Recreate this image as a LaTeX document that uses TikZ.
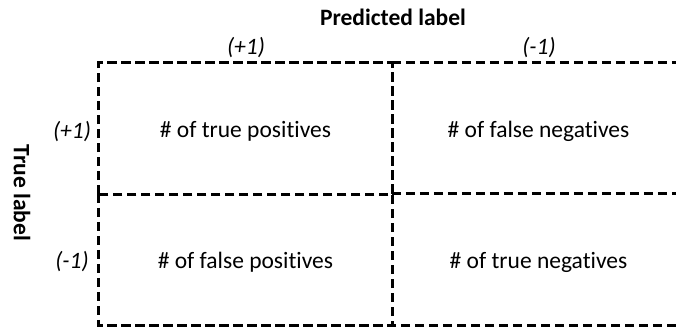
\documentclass[tikz,border=0pt]{standalone}
\usepackage{fontspec}
\setmainfont{Carlito}[Ligatures=NoCommon]
\usepackage{tikz}
\tikzset{cell/.style={minimum width=293pt, minimum height=131pt, inner sep=0pt,
      text height=22pt, text depth=5pt, font=\fontsize{23.5}{26}\selectfont},
  grid/.style={line width=3pt, dash pattern=on 9.5pt off 4.5pt},
  tag/.style={font=\fontsize{23.5}{26}\selectfont\itshape, inner sep=0pt},
  axis/.style={font=\fontsize{23.5}{28}\selectfont\bfseries, inner sep=0pt}}

\begin{document}
\begin{tikzpicture}[x=1pt, y=-1pt]
    \useasboundingbox (0,0) rectangle (676,327);
    \node[cell] (tp) at (245.5,128.5) {\# of true positives};
    \node[cell] (fn) at (538.5,128.5) {\# of false negatives};
    \node[cell] (fp) at (245.5,259.5) {\# of false positives};
    \node[cell] (tn) at (538.5,259.5) {\# of true negatives};
    % dashed borders, each shared edge only once
    \draw[grid] (tp.south west) -- (tp.north west) -- (tp.north east) -- (tp.south east) -- cycle;
    \draw[grid] (fp.north west) -- (fp.south west) -- (fp.south east) -- (fp.north east);
    \draw[grid] (fn.north west) -- (fn.north east) -- (fn.south east);
    \draw[grid] (tn.north west) -- (tn.north east) -- (tn.south east) -- (tn.south west);
    \node[axis] (pred) at (393,17) {Predicted label};
    \node[axis, rotate=-90] (true) at (22,193) {True label};
    \node[tag] (ppos) at (246,48) {(+1)};
    \node[tag] (pneg) at (539,48) {(-1)};
    \node[tag] (tpos) at (72,132) {(+1)};
    \node[tag] (tneg) at (72,262) {(-1)};
  \end{tikzpicture}
\end{document}
